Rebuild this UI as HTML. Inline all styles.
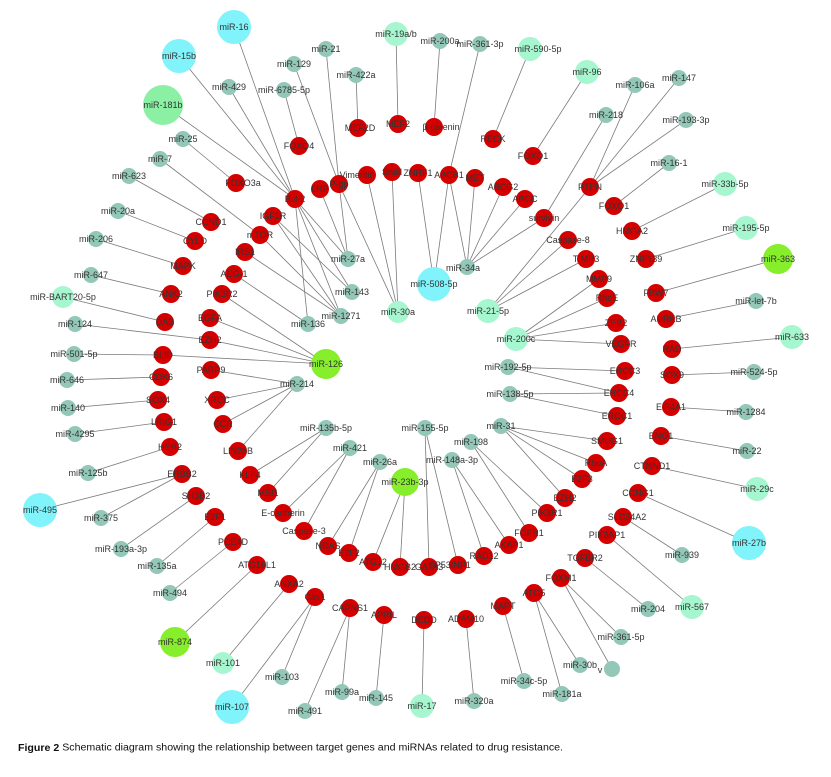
<!DOCTYPE html>
<html><head><meta charset="utf-8"><style>
html,body{margin:0;padding:0;background:#fff;width:831px;height:777px;overflow:hidden}
svg text{font-family:"Liberation Sans",Arial,sans-serif;font-size:9px;fill:#333;text-anchor:middle;dominant-baseline:central}
.e line{stroke:#7a7a7a;stroke-width:0.8}
.r{fill:#d40000}.t{fill:#93c7b7}.m{fill:#a6f6cf}.c{fill:#80f3fb}.l{fill:#86ee2a}.g{fill:#8cf0a4}
.r circle{r:9px}
</style></head><body>
<svg width="831" height="777" viewBox="0 0 831 777" xmlns="http://www.w3.org/2000/svg">
<g class="e">
<line x1="234" y1="27" x2="295" y2="199"/><line x1="179" y1="56" x2="295" y2="199"/><line x1="163" y1="105" x2="295" y2="199"/><line x1="229" y1="87" x2="295" y2="199"/>
<line x1="326" y1="49" x2="339" y2="184"/><line x1="294" y1="64" x2="339" y2="184"/><line x1="284" y1="90" x2="299" y2="146"/><line x1="356" y1="75" x2="358" y2="128"/>
<line x1="396" y1="34" x2="398" y2="124"/><line x1="440" y1="41" x2="434" y2="127"/><line x1="480" y1="44" x2="449" y2="175"/><line x1="530" y1="49" x2="493" y2="139"/>
<line x1="587" y1="72" x2="533" y2="156"/><line x1="183" y1="139" x2="236" y2="183"/><line x1="160" y1="159" x2="260" y2="235"/><line x1="129" y1="176" x2="211" y2="222"/>
<line x1="118" y1="211" x2="195" y2="241"/><line x1="96" y1="239" x2="183" y2="266"/><line x1="91" y1="275" x2="171" y2="294"/><line x1="63" y1="297" x2="165" y2="322"/>
<line x1="75" y1="324" x2="210" y2="340"/><line x1="74" y1="354" x2="163" y2="355"/><line x1="67" y1="380" x2="161" y2="377"/><line x1="68" y1="408" x2="158" y2="400"/>
<line x1="75" y1="434" x2="164" y2="422"/><line x1="88" y1="473" x2="170" y2="447"/><line x1="40" y1="510" x2="182" y2="474"/><line x1="101" y1="518" x2="182" y2="474"/>
<line x1="121" y1="549" x2="196" y2="496"/><line x1="157" y1="566" x2="215" y2="517"/><line x1="170" y1="593" x2="233" y2="542"/><line x1="175" y1="642" x2="257" y2="565"/>
<line x1="223" y1="663" x2="289" y2="584"/><line x1="232" y1="707" x2="315" y2="597"/><line x1="282" y1="677" x2="315" y2="597"/><line x1="305" y1="711" x2="350" y2="608"/>
<line x1="342" y1="692" x2="350" y2="608"/><line x1="376" y1="698" x2="384" y2="615"/><line x1="422" y1="706" x2="424" y2="620"/><line x1="474" y1="701" x2="466" y2="619"/>
<line x1="524" y1="681" x2="503" y2="606"/><line x1="562" y1="694" x2="534" y2="593"/><line x1="580" y1="665" x2="534" y2="593"/><line x1="612" y1="669" x2="561" y2="578"/>
<line x1="621" y1="637" x2="561" y2="578"/><line x1="648" y1="609" x2="585" y2="558"/><line x1="692" y1="607" x2="607" y2="535"/><line x1="682" y1="555" x2="623" y2="517"/>
<line x1="749" y1="543" x2="638" y2="493"/><line x1="757" y1="489" x2="652" y2="466"/><line x1="747" y1="451" x2="661" y2="436"/><line x1="746" y1="412" x2="671" y2="407"/>
<line x1="754" y1="372" x2="672" y2="375"/><line x1="792" y1="337" x2="672" y2="349"/><line x1="756" y1="301" x2="666" y2="319"/><line x1="778" y1="259" x2="656" y2="293"/>
<line x1="746" y1="228" x2="646" y2="259"/><line x1="725" y1="184" x2="632" y2="231"/><line x1="669" y1="163" x2="614" y2="206"/>
<line x1="635" y1="85" x2="590" y2="187"/><line x1="679" y1="78" x2="590" y2="187"/><line x1="686" y1="120" x2="590" y2="187"/><line x1="606" y1="115" x2="544" y2="218"/>
<line x1="590" y1="187" x2="488" y2="311"/><line x1="488" y1="311" x2="568" y2="240"/><line x1="488" y1="311" x2="586" y2="259"/>
<line x1="516" y1="339" x2="599" y2="279"/><line x1="516" y1="339" x2="607" y2="298"/><line x1="516" y1="339" x2="616" y2="323"/><line x1="516" y1="339" x2="621" y2="344"/>
<line x1="508" y1="367" x2="625" y2="371"/><line x1="508" y1="367" x2="619" y2="393"/><line x1="510" y1="394" x2="619" y2="393"/><line x1="510" y1="394" x2="617" y2="416"/>
<line x1="467" y1="267" x2="449" y2="175"/><line x1="467" y1="267" x2="475" y2="178"/><line x1="467" y1="267" x2="503" y2="187"/><line x1="467" y1="267" x2="525" y2="199"/><line x1="467" y1="267" x2="544" y2="218"/>
<line x1="434" y1="284" x2="418" y2="173"/><line x1="434" y1="284" x2="449" y2="175"/>
<line x1="398" y1="312" x2="339" y2="184"/><line x1="398" y1="312" x2="367" y2="175"/><line x1="398" y1="312" x2="392" y2="172"/>
<line x1="348" y1="259" x2="295" y2="199"/><line x1="348" y1="259" x2="320" y2="189"/><line x1="348" y1="259" x2="339" y2="184"/>
<line x1="352" y1="292" x2="295" y2="199"/><line x1="352" y1="292" x2="273" y2="216"/>
<line x1="341" y1="316" x2="295" y2="199"/><line x1="341" y1="316" x2="273" y2="216"/><line x1="341" y1="316" x2="260" y2="235"/><line x1="341" y1="316" x2="245" y2="252"/>
<line x1="308" y1="324" x2="295" y2="199"/><line x1="308" y1="324" x2="234" y2="274"/>
<line x1="326" y1="364" x2="222" y2="294"/><line x1="326" y1="364" x2="210" y2="318"/><line x1="326" y1="364" x2="210" y2="340"/><line x1="326" y1="364" x2="163" y2="355"/>
<line x1="297" y1="384" x2="211" y2="370"/><line x1="297" y1="384" x2="217" y2="400"/><line x1="297" y1="384" x2="223" y2="424"/><line x1="297" y1="384" x2="238" y2="451"/>
<line x1="326" y1="428" x2="250" y2="475"/><line x1="326" y1="428" x2="268" y2="493"/><line x1="350" y1="448" x2="283" y2="513"/><line x1="350" y1="448" x2="304" y2="531"/>
<line x1="380" y1="462" x2="328" y2="546"/><line x1="380" y1="462" x2="349" y2="553"/><line x1="405" y1="482" x2="373" y2="562"/><line x1="405" y1="482" x2="400" y2="567"/>
<line x1="425" y1="428" x2="429" y2="567"/><line x1="425" y1="428" x2="458" y2="565"/><line x1="452" y1="460" x2="484" y2="556"/><line x1="452" y1="460" x2="509" y2="545"/>
<line x1="471" y1="442" x2="529" y2="533"/><line x1="471" y1="442" x2="547" y2="513"/>
<line x1="501" y1="426" x2="607" y2="441"/><line x1="501" y1="426" x2="596" y2="463"/><line x1="501" y1="426" x2="582" y2="479"/><line x1="501" y1="426" x2="565" y2="498"/>
</g>
<g>
<circle class="c" cx="234" cy="27" r="17"/><circle class="c" cx="179" cy="56" r="17"/><circle class="g" cx="163" cy="105" r="20"/>
<circle class="m" cx="396" cy="34" r="12"/><circle class="m" cx="530" cy="49" r="12"/><circle class="m" cx="587" cy="72" r="12"/>
<circle class="c" cx="434" cy="284" r="17"/><circle class="l" cx="326" cy="364" r="15"/><circle class="l" cx="778" cy="259" r="15"/>
<circle class="m" cx="725" cy="184" r="12"/><circle class="m" cx="746" cy="228" r="12"/><circle class="m" cx="792" cy="337" r="12"/>
<circle class="m" cx="488" cy="311" r="12"/><circle class="m" cx="516" cy="339" r="12"/><circle class="m" cx="398" cy="312" r="11"/>
<circle class="m" cx="63" cy="297" r="11"/><circle class="c" cx="40" cy="510" r="17"/><circle class="l" cx="175" cy="642" r="15"/>
<circle class="m" cx="223" cy="663" r="11"/><circle class="c" cx="232" cy="707" r="17"/><circle class="l" cx="405" cy="482" r="14"/>
<circle class="m" cx="757" cy="489" r="12"/><circle class="c" cx="749" cy="543" r="17"/><circle class="m" cx="692" cy="607" r="12"/><circle class="m" cx="422" cy="706" r="12"/>
</g>
<g class="t">
<circle cx="326" cy="49" r="8"/><circle cx="294" cy="64" r="8"/><circle cx="356" cy="75" r="8"/><circle cx="229" cy="87" r="8"/><circle cx="284" cy="90" r="8"/>
<circle cx="440" cy="41" r="8"/><circle cx="480" cy="44" r="8"/><circle cx="635" cy="85" r="8"/><circle cx="679" cy="78" r="8"/><circle cx="606" cy="115" r="8"/>
<circle cx="686" cy="120" r="8"/><circle cx="669" cy="163" r="8"/><circle cx="183" cy="139" r="8"/><circle cx="160" cy="159" r="8"/><circle cx="129" cy="176" r="8"/>
<circle cx="118" cy="211" r="8"/><circle cx="96" cy="239" r="8"/><circle cx="91" cy="275" r="8"/><circle cx="75" cy="324" r="8"/><circle cx="74" cy="354" r="8"/>
<circle cx="67" cy="380" r="8"/><circle cx="68" cy="408" r="8"/><circle cx="75" cy="434" r="8"/><circle cx="88" cy="473" r="8"/><circle cx="101" cy="518" r="8"/>
<circle cx="121" cy="549" r="8"/><circle cx="157" cy="566" r="8"/><circle cx="170" cy="593" r="8"/><circle cx="348" cy="259" r="8"/><circle cx="352" cy="292" r="8"/>
<circle cx="341" cy="316" r="8"/><circle cx="308" cy="324" r="8"/><circle cx="297" cy="384" r="8"/><circle cx="467" cy="267" r="8"/><circle cx="756" cy="301" r="8"/>
<circle cx="754" cy="372" r="8"/><circle cx="746" cy="412" r="8"/><circle cx="747" cy="451" r="8"/><circle cx="508" cy="367" r="8"/><circle cx="510" cy="394" r="8"/>
<circle cx="425" cy="428" r="8"/><circle cx="501" cy="426" r="8"/><circle cx="471" cy="442" r="8"/><circle cx="452" cy="460" r="8"/><circle cx="326" cy="428" r="8"/>
<circle cx="350" cy="448" r="8"/><circle cx="380" cy="462" r="8"/><circle cx="682" cy="555" r="8"/><circle cx="648" cy="609" r="8"/><circle cx="621" cy="637" r="8"/>
<circle cx="580" cy="665" r="8"/><circle cx="612" cy="669" r="8"/><circle cx="524" cy="681" r="8"/><circle cx="562" cy="694" r="8"/><circle cx="474" cy="701" r="8"/>
<circle cx="376" cy="698" r="8"/><circle cx="342" cy="692" r="8"/><circle cx="305" cy="711" r="8"/><circle cx="282" cy="677" r="8"/>
</g>
<g class="r">
<circle cx="358" cy="128" r="9"/><circle cx="398" cy="124" r="9"/><circle cx="434" cy="127" r="9"/><circle cx="493" cy="139" r="9"/><circle cx="533" cy="156" r="9"/>
<circle cx="299" cy="146" r="9"/><circle cx="236" cy="183" r="9"/><circle cx="295" cy="199" r="9"/><circle cx="320" cy="189" r="9"/><circle cx="339" cy="184" r="9"/>
<circle cx="367" cy="175" r="9"/><circle cx="392" cy="172" r="9"/><circle cx="418" cy="173" r="9"/><circle cx="449" cy="175" r="9"/><circle cx="475" cy="178" r="9"/>
<circle cx="503" cy="187" r="9"/><circle cx="525" cy="199" r="9"/><circle cx="544" cy="218" r="9"/><circle cx="590" cy="187" r="9"/><circle cx="614" cy="206" r="9"/>
<circle cx="568" cy="240" r="9"/><circle cx="586" cy="259" r="9"/><circle cx="599" cy="279" r="9"/><circle cx="607" cy="298" r="9"/><circle cx="616" cy="323" r="9"/>
<circle cx="621" cy="344" r="9"/><circle cx="632" cy="231" r="9"/><circle cx="646" cy="259" r="9"/><circle cx="656" cy="293" r="9"/><circle cx="666" cy="319" r="9"/>
<circle cx="672" cy="349" r="9"/><circle cx="672" cy="375" r="9"/><circle cx="625" cy="371" r="9"/><circle cx="619" cy="393" r="9"/><circle cx="617" cy="416" r="9"/>
<circle cx="671" cy="407" r="9"/><circle cx="661" cy="436" r="9"/><circle cx="652" cy="466" r="9"/><circle cx="638" cy="493" r="9"/><circle cx="623" cy="517" r="9"/>
<circle cx="607" cy="535" r="9"/><circle cx="585" cy="558" r="9"/><circle cx="561" cy="578" r="9"/><circle cx="534" cy="593" r="9"/><circle cx="503" cy="606" r="9"/>
<circle cx="424" cy="620" r="9"/><circle cx="466" cy="619" r="9"/><circle cx="607" cy="441" r="9"/><circle cx="596" cy="463" r="9"/><circle cx="582" cy="479" r="9"/>
<circle cx="565" cy="498" r="9"/><circle cx="547" cy="513" r="9"/><circle cx="529" cy="533" r="9"/><circle cx="509" cy="545" r="9"/><circle cx="484" cy="556" r="9"/>
<circle cx="458" cy="565" r="9"/><circle cx="429" cy="567" r="9"/><circle cx="400" cy="567" r="9"/><circle cx="373" cy="562" r="9"/><circle cx="349" cy="553" r="9"/>
<circle cx="328" cy="546" r="9"/><circle cx="304" cy="531" r="9"/><circle cx="283" cy="513" r="9"/><circle cx="268" cy="493" r="9"/><circle cx="250" cy="475" r="9"/>
<circle cx="238" cy="451" r="9"/><circle cx="223" cy="424" r="9"/><circle cx="217" cy="400" r="9"/><circle cx="211" cy="370" r="9"/><circle cx="161" cy="377" r="9"/>
<circle cx="158" cy="400" r="9"/><circle cx="164" cy="422" r="9"/><circle cx="170" cy="447" r="9"/><circle cx="182" cy="474" r="9"/><circle cx="196" cy="496" r="9"/>
<circle cx="215" cy="517" r="9"/><circle cx="233" cy="542" r="9"/><circle cx="257" cy="565" r="9"/><circle cx="289" cy="584" r="9"/><circle cx="315" cy="597" r="9"/>
<circle cx="350" cy="608" r="9"/><circle cx="384" cy="615" r="9"/><circle cx="273" cy="216" r="9"/><circle cx="260" cy="235" r="9"/><circle cx="245" cy="252" r="9"/>
<circle cx="234" cy="274" r="9"/><circle cx="222" cy="294" r="9"/><circle cx="210" cy="318" r="9"/><circle cx="210" cy="340" r="9"/><circle cx="163" cy="355" r="9"/>
<circle cx="165" cy="322" r="9"/><circle cx="171" cy="294" r="9"/><circle cx="183" cy="266" r="9"/><circle cx="195" cy="241" r="9"/><circle cx="211" cy="222" r="9"/>
</g>
<g>
<text x="234" y="27">miR-16</text><text x="179" y="56">miR-15b</text><text x="163" y="105">miR-181b</text><text x="396" y="34">miR-19a/b</text>
<text x="538" y="49">miR-590-5p</text><text x="587" y="72">miR-96</text><text x="434" y="284">miR-508-5p</text><text x="326" y="364">miR-126</text>
<text x="778" y="259">miR-363</text><text x="725" y="184">miR-33b-5p</text><text x="746" y="228">miR-195-5p</text><text x="792" y="337">miR-633</text>
<text x="488" y="311">miR-21-5p</text><text x="516" y="339">miR-200c</text><text x="398" y="312">miR-30a</text><text x="63" y="297">miR-BART20-5p</text>
<text x="40" y="510">miR-495</text><text x="175" y="642">miR-874</text><text x="223" y="663">miR-101</text><text x="232" y="707">miR-107</text>
<text x="405" y="482">miR-23b-3p</text><text x="757" y="489">miR-29c</text><text x="749" y="543">miR-27b</text><text x="692" y="607">miR-567</text><text x="422" y="706">miR-17</text>
<text x="326" y="49">miR-21</text><text x="294" y="64">miR-129</text><text x="356" y="75">miR-422a</text><text x="229" y="87">miR-429</text><text x="284" y="90">miR-6785-5p</text>
<text x="440" y="41">miR-200a</text><text x="480" y="44">miR-361-3p</text><text x="635" y="85">miR-106a</text><text x="679" y="78">miR-147</text><text x="606" y="115">miR-218</text>
<text x="686" y="120">miR-193-3p</text><text x="669" y="163">miR-16-1</text><text x="183" y="139">miR-25</text><text x="160" y="159">miR-7</text><text x="129" y="176">miR-623</text>
<text x="118" y="211">miR-20a</text><text x="96" y="239">miR-206</text><text x="91" y="275">miR-647</text><text x="75" y="324">miR-124</text><text x="74" y="354">miR-501-5p</text>
<text x="67" y="380">miR-646</text><text x="68" y="408">miR-140</text><text x="75" y="434">miR-4295</text><text x="88" y="473">miR-125b</text><text x="101" y="518">miR-375</text>
<text x="121" y="549">miR-193a-3p</text><text x="157" y="566">miR-135a</text><text x="170" y="593">miR-494</text><text x="348" y="259">miR-27a</text><text x="352" y="292">miR-143</text>
<text x="341" y="316">miR-1271</text><text x="308" y="324">miR-136</text><text x="297" y="384">miR-214</text><text x="463" y="268">miR-34a</text><text x="756" y="301">miR-let-7b</text>
<text x="754" y="372">miR-524-5p</text><text x="746" y="412">miR-1284</text><text x="747" y="451">miR-22</text><text x="508" y="367">miR-192-5p</text><text x="510" y="394">miR-138-5p</text>
<text x="425" y="428">miR-155-5p</text><text x="501" y="426">miR-31</text><text x="471" y="442">miR-198</text><text x="452" y="460">miR-148a-3p</text><text x="326" y="428">miR-135b-5p</text>
<text x="350" y="448">miR-421</text><text x="380" y="462">miR-26a</text><text x="682" y="555">miR-939</text><text x="648" y="609">miR-204</text><text x="621" y="637">miR-361-5p</text>
<text x="580" y="665">miR-30b</text><text x="600" y="670">v</text><text x="524" y="681">miR-34c-5p</text><text x="562" y="694">miR-181a</text><text x="474" y="701">miR-320a</text>
<text x="376" y="698">miR-145</text><text x="342" y="692">miR-99a</text><text x="305" y="711">miR-491</text><text x="282" y="677">miR-103</text>
<text x="360" y="128">MEF2D</text><text x="398" y="124">MEF2</text><text x="441" y="127">β-catenin</text><text x="493" y="139">RECK</text><text x="533" y="156">FOXO1</text>
<text x="299" y="146">FOXO4</text><text x="243" y="183">FOXO3a</text><text x="295" y="199">Bcl-2</text><text x="320" y="189">LRP</text><text x="339" y="184">P-gp</text>
<text x="357" y="175">Vimentin</text><text x="392" y="172">Snail</text><text x="418" y="173">ZNRF1</text><text x="449" y="175">ABCB1</text><text x="475" y="178">MET</text>
<text x="503" y="187">ABCG2</text><text x="525" y="199">ABCC</text><text x="544" y="218">survivin</text><text x="590" y="187">PTEN</text><text x="614" y="206">FOXO1</text>
<text x="568" y="240">Caspase-8</text><text x="586" y="259">TIMP3</text><text x="599" y="279">MMP9</text><text x="607" y="298">RhoE</text><text x="616" y="323">ZEB2</text>
<text x="621" y="344">VEGFR</text><text x="632" y="231">HMGA2</text><text x="646" y="259">ZNF139</text><text x="656" y="293">FBW7</text><text x="666" y="319">AURKB</text>
<text x="672" y="349">RAD</text><text x="672" y="375">SOX9</text><text x="625" y="371">ERCC3</text><text x="619" y="393">ERCC4</text><text x="617" y="416">ERCC1</text>
<text x="671" y="407">EIF4A1</text><text x="661" y="436">ENO1</text><text x="652" y="466">CTNND1</text><text x="638" y="493">CCNG1</text><text x="627" y="517">SLC34A2</text>
<text x="607" y="535">PIK3AP1</text><text x="585" y="558">TGFBR2</text><text x="561" y="578">FOXM1</text><text x="534" y="593">ATG5</text><text x="503" y="606">MAPT</text>
<text x="424" y="620">DEDD</text><text x="466" y="619">ADAM10</text><text x="607" y="441">SMUG1</text><text x="596" y="463">RhoA</text><text x="582" y="479">E2F3</text>
<text x="565" y="498">EZH2</text><text x="547" y="513">PIK3R1</text><text x="529" y="533">FGFR1</text><text x="509" y="545">AKAP1</text><text x="484" y="556">RAD12</text>
<text x="450" y="565">TP53INP1</text><text x="429" y="567">GATA3</text><text x="400" y="567">HMGB2</text><text x="373" y="562">ATG12</text><text x="349" y="553">E2F2</text>
<text x="328" y="546">NRAS</text><text x="304" y="531">Caspase-3</text><text x="283" y="513">E-cadherin</text><text x="268" y="493">MSI1</text><text x="250" y="475">KLF4</text>
<text x="238" y="451">LIN28B</text><text x="223" y="424">CCR</text><text x="217" y="400">XRCC</text><text x="211" y="370">PARP9</text><text x="161" y="377">CDK6</text>
<text x="158" y="400">SOX4</text><text x="164" y="422">LRIG1</text><text x="170" y="447">HER2</text><text x="182" y="474">ERBB2</text><text x="196" y="496">SH3B2</text>
<text x="215" y="517">E2F1</text><text x="233" y="542">PDE4D</text><text x="257" y="565">ATG16L1</text><text x="289" y="584">ANXA2</text><text x="315" y="597">Cav1</text>
<text x="350" y="608">CAPNS1</text><text x="384" y="615">APRIL</text><text x="273" y="216">IGF1R</text><text x="260" y="235">mTOR</text><text x="245" y="252">IRS1</text>
<text x="234" y="274">AEG-1</text><text x="222" y="294">PIK3R2</text><text x="210" y="318">EGFA</text><text x="210" y="340">EZH2</text><text x="163" y="355">BLID</text>
<text x="165" y="322">DAB</text><text x="171" y="294">ANK2</text><text x="183" y="266">MAPK</text><text x="195" y="241">CYLD</text><text x="211" y="222">CCND1</text>
</g>
<text x="18" y="748" style="text-anchor:start;font-size:10px;fill:#111" textLength="545" lengthAdjust="spacingAndGlyphs"><tspan font-weight="bold">Figure 2</tspan> Schematic diagram showing the relationship between target genes and miRNAs related to drug resistance.</text>
</svg>
</body></html>
